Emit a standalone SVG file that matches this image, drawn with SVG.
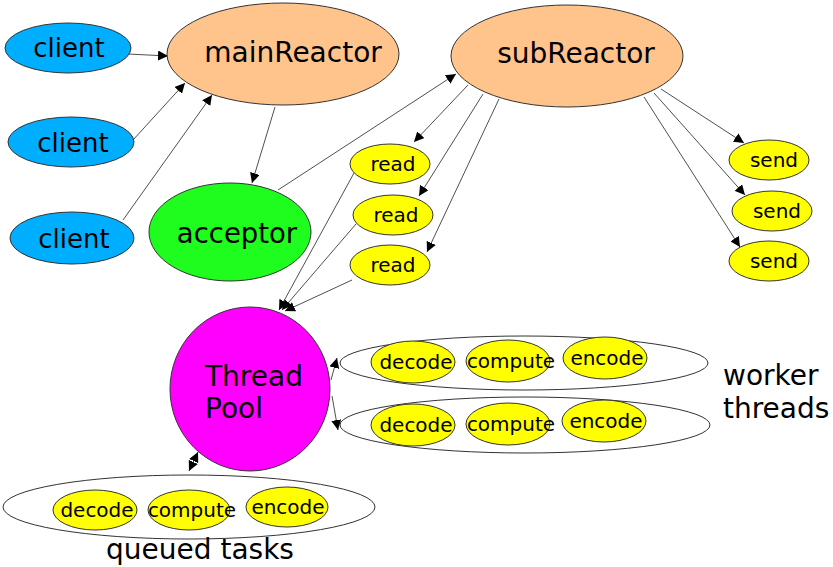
<svg xmlns="http://www.w3.org/2000/svg" width="833" height="567" viewBox="0 0 833 567">
<style>
  .n { stroke: #333; stroke-width: 1; }
  .blue { fill: #00aeff; }
  .peach { fill: #ffc38c; }
  .green { fill: #1ffd1f; }
  .mag { fill: #ff00ff; }
  .yel { fill: #ffff00; }
  .grp { fill: #ffffff; stroke: #333; stroke-width: 1; }
  text { font-family: "DejaVu Sans", "Liberation Sans", sans-serif; fill: #000; }
  .big { font-size: 26px; }
  .rx { font-size: 28px; }
  .med { font-size: 28px; }
  .sm { font-size: 20px; }
  .c { stroke: #222; stroke-width: 0.8; fill: none; }
</style>
<defs>
  <marker id="ah" viewBox="0 0 10 10" refX="10" refY="5" markerWidth="10" markerHeight="10" markerUnits="userSpaceOnUse" orient="auto">
    <path d="M0,0 L10,5 L0,10 z" fill="#000"/>
  </marker>
  <marker id="as" viewBox="0 0 10 10" refX="0" refY="5" markerWidth="10" markerHeight="10" markerUnits="userSpaceOnUse" orient="auto">
    <path d="M10,0 L0,5 L10,10 z" fill="#000"/>
  </marker>
</defs>

<g id="group-worker1"><ellipse class="grp" cx="524" cy="363" rx="184" ry="27"/></g>
<g id="group-worker2"><ellipse class="grp" cx="525" cy="425" rx="185" ry="28"/></g>
<g id="group-queued"><ellipse class="grp" cx="189" cy="507" rx="186" ry="32"/></g>

<g id="connectors">
  <line class="c" x1="128" y1="54" x2="168" y2="56" marker-end="url(#ah)"/>
  <line class="c" x1="133" y1="140" x2="185" y2="83" marker-end="url(#ah)"/>
  <line class="c" x1="123" y1="220" x2="212" y2="95" marker-end="url(#ah)"/>
  <line class="c" x1="275" y1="107" x2="252" y2="183" marker-end="url(#ah)"/>
  <line class="c" x1="278" y1="190" x2="456" y2="74" marker-end="url(#ah)"/>
  <line class="c" x1="468" y1="85" x2="414" y2="142" marker-end="url(#ah)"/>
  <line class="c" x1="483" y1="94" x2="419" y2="196" marker-end="url(#ah)"/>
  <line class="c" x1="499" y1="99" x2="427" y2="252" marker-end="url(#ah)"/>
  <line class="c" x1="661" y1="89" x2="744" y2="143" marker-end="url(#ah)"/>
  <line class="c" x1="654" y1="93" x2="745" y2="195" marker-end="url(#ah)"/>
  <line class="c" x1="644" y1="97" x2="740" y2="247" marker-end="url(#ah)"/>
  <line class="c" x1="354" y1="173" x2="279" y2="310" marker-end="url(#ah)"/>
  <line class="c" x1="356" y1="224" x2="282" y2="310" marker-end="url(#ah)"/>
  <line class="c" x1="352" y1="280" x2="285" y2="311" marker-end="url(#ah)"/>
  <line class="c" x1="331" y1="380" x2="337" y2="358" marker-end="url(#ah)"/>
  <line class="c" x1="332" y1="396" x2="338" y2="430" marker-end="url(#ah)"/>
  <line class="c" x1="189" y1="471" x2="198" y2="452" marker-start="url(#as)" marker-end="url(#ah)"/>
</g>

<g id="client1"><ellipse class="n blue" cx="68" cy="48" rx="63" ry="25"/><text class="big" x="69" y="57" text-anchor="middle">client</text></g>
<g id="client2"><ellipse class="n blue" cx="71" cy="142" rx="63" ry="25"/><text class="big" x="73" y="152" text-anchor="middle">client</text></g>
<g id="client3"><ellipse class="n blue" cx="72" cy="238" rx="62" ry="26"/><text class="big" x="74" y="248" text-anchor="middle">client</text></g>
<g id="mainReactor"><ellipse class="n peach" cx="283" cy="54" rx="116" ry="51"/><text class="rx" x="293" y="62" text-anchor="middle">mainReactor</text></g>
<g id="subReactor"><ellipse class="n peach" cx="567" cy="56" rx="116" ry="51"/><text class="rx" x="576" y="63" text-anchor="middle">subReactor</text></g>
<g id="acceptor"><ellipse class="n green" cx="230" cy="232" rx="81" ry="49"/><text class="rx" x="237" y="243" text-anchor="middle" style="font-size:27.5px">acceptor</text></g>
<g id="read1"><ellipse class="n yel" cx="390" cy="164" rx="40" ry="20"/><text class="sm" x="393" y="171" text-anchor="middle">read</text></g>
<g id="read2"><ellipse class="n yel" cx="393" cy="215" rx="40" ry="20"/><text class="sm" x="396" y="222" text-anchor="middle">read</text></g>
<g id="read3"><ellipse class="n yel" cx="390" cy="265" rx="40" ry="20"/><text class="sm" x="393" y="272" text-anchor="middle">read</text></g>
<g id="send1"><ellipse class="n yel" cx="769" cy="160" rx="40" ry="20"/><text class="sm" x="774" y="167" text-anchor="middle">send</text></g>
<g id="send2"><ellipse class="n yel" cx="772" cy="211" rx="40" ry="20"/><text class="sm" x="777" y="218" text-anchor="middle">send</text></g>
<g id="send3"><ellipse class="n yel" cx="769" cy="261" rx="40" ry="20"/><text class="sm" x="774" y="268" text-anchor="middle">send</text></g>
<g id="threadPool"><ellipse class="n mag" cx="250" cy="389" rx="80" ry="82"/><text class="med" x="205" y="386">Thread</text><text class="med" x="205" y="418">Pool</text></g>

<g id="w1-decode"><ellipse class="n yel" cx="413" cy="362" rx="42" ry="21"/><text class="sm" x="416" y="369" text-anchor="middle">decode</text></g>
<g id="w1-compute"><ellipse class="n yel" cx="508" cy="361" rx="42" ry="21"/><text class="sm" x="511" y="368" text-anchor="middle">compute</text></g>
<g id="w1-encode"><ellipse class="n yel" cx="605" cy="358" rx="42" ry="21"/><text class="sm" x="607" y="365" text-anchor="middle">encode</text></g>
<g id="w2-decode"><ellipse class="n yel" cx="413" cy="425" rx="42" ry="21"/><text class="sm" x="416" y="432" text-anchor="middle">decode</text></g>
<g id="w2-compute"><ellipse class="n yel" cx="508" cy="424" rx="42" ry="21"/><text class="sm" x="511" y="431" text-anchor="middle">compute</text></g>
<g id="w2-encode"><ellipse class="n yel" cx="604" cy="421" rx="42" ry="21"/><text class="sm" x="606" y="428" text-anchor="middle">encode</text></g>
<g id="q-decode"><ellipse class="n yel" cx="95" cy="510" rx="42" ry="20"/><text class="sm" x="97" y="517" text-anchor="middle">decode</text></g>
<g id="q-compute"><ellipse class="n yel" cx="189" cy="510" rx="41" ry="20"/><text class="sm" x="192" y="517" text-anchor="middle">compute</text></g>
<g id="q-encode"><ellipse class="n yel" cx="287" cy="507" rx="41" ry="20"/><text class="sm" x="288" y="514" text-anchor="middle">encode</text></g>

<g id="labels">
  <text class="med" x="723" y="385">worker</text>
  <text class="med" x="723" y="418">threads</text>
  <text class="med" x="200" y="559" text-anchor="middle">queued tasks</text>
</g>
</svg>
